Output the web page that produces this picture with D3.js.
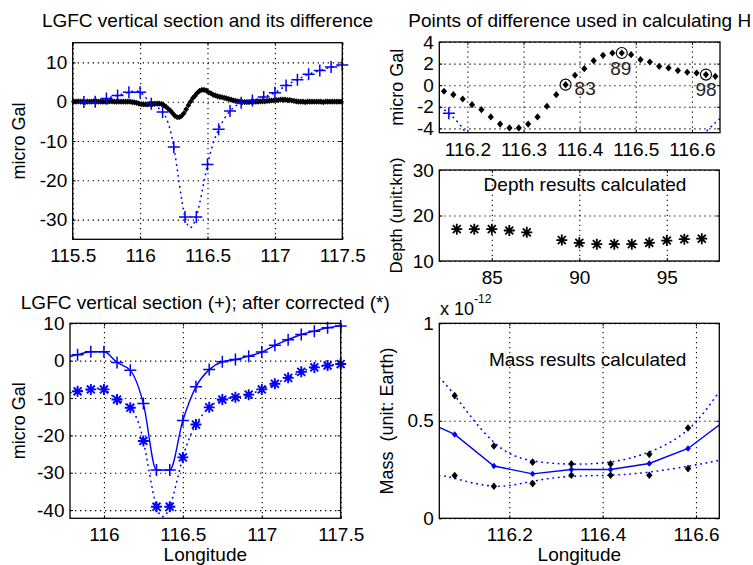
<!DOCTYPE html>
<html lang="en">
<head>
<meta charset="UTF-8">
<title>LGFC vertical section</title>
<script src="https://cdn.jsdelivr.net/npm/d3@7/dist/d3.min.js"></script>
<style>
  body { margin:0; background:#fff; }
  svg { display:block; }
  text { font-family:"Liberation Sans", Arial, Helvetica, sans-serif; fill:#000; }
  .frame { fill:none; stroke:#000; stroke-width:1.3; }
  .grid line { stroke:#000; stroke-width:1.1; stroke-dasharray:1.3,3.7; }
  .grid path, .ax path { display:none; }
  .ax line { stroke:#000; stroke-width:1; }
  .ax text { font-size:19px; }
</style>
</head>
<body>
<div id="chart"></div>
<script>

// LGFC vertical section: longitudes (deg) and values (micro Gal)
var secLon = [115.583, 115.667, 115.75, 115.833, 115.917, 116.0, 116.083, 116.167, 116.25, 116.333, 116.417, 116.5,
              116.583, 116.667, 116.75, 116.833, 116.917, 117.0, 117.083, 117.167, 117.25, 117.333, 117.417, 117.5];
var secVal = [-0.1, 0.0, 0.8, 1.6, 2.4, 2.4, -0.5, -2.6, -11.5, -29.3, -29.3, -16.0,
              -7.0, -2.4, -0.3, 0.3, 1.2, 2.3, 4.1, 5.6, 7.0, 7.9, 8.8, 9.3];
// after corrected (*)
var corVal = [-10.0, -9.9, -9.0, -8.2, -7.7, -7.7, -10.4, -12.6, -21.5, -39.1, -39.1, -25.9,
              -17.1, -12.5, -10.4, -9.8, -9.1, -7.7, -6.2, -4.6, -3.0, -1.8, -1.3, -0.9];

// difference points, point index 31..150 (1 arc-minute apart)
var diffFirst = 31;
var diffVal = [
  0.0, 0.0, 0.1, 0.0, 0.0, -0.1, 0.0, 0.0, 0.0, 0.1,
  0.1, 0.0, 0.0, 0.0, 0.0, 0.0, 0.1, 0.1, 0.0, 0.0,
  0.0, 0.0, 0.0, 0.0, 0.0, 0.0, -0.1, -0.2, -0.3, -0.5,
  -0.6, -0.7, -0.7, -0.7, -0.6, -0.6, -0.5, -0.5, -0.5, -0.56,
  -0.88, -1.28, -1.8, -2.27, -2.94, -3.6, -3.96, -3.96, -3.6, -2.94,
  -1.95, -0.88, 0.05, 0.92, 1.53, 2.27, 2.77, 2.98, 2.98, 2.83,
  2.36, 2.15, 1.75, 1.6, 1.35, 1.2, 1.13, 0.98, 0.82, 0.65,
  0.5, 0.35, 0.2, 0.1, 0.0, -0.1, -0.1, -0.1, -0.1, 0.0,
  0.0, 0.0, 0.0, 0.1, 0.1, 0.1, 0.2, 0.2, 0.3, 0.3,
  0.4, 0.4, 0.5, 0.5, 0.5, 0.4, 0.4, 0.3, 0.2, 0.1,
  0.0, 0.0, 0.0, -0.1, 0.0, 0.0, 0.0, 0.0, 0.0, 0.0,
  0.0, -0.1, 0.0, 0.0, 0.0, 0.0, 0.0, 0.0, 0.0, 0.0
];
var markIdx = [83, 89, 98];

// depth results (km) by point index
var depIdx = [83, 84, 85, 86, 87, 89, 90, 91, 92, 93, 94, 95, 96, 97];
var depVal = [17.0, 17.0, 17.0, 16.7, 16.3, 14.6, 14.0, 13.7, 13.7, 13.7, 14.0, 14.5, 14.8, 14.9];

// mass results (x 1e-12 Earth)
var massLon = [116.0, 116.083, 116.167, 116.25, 116.333, 116.417, 116.5, 116.583, 116.667];
var massVal = [0.52, 0.43, 0.268, 0.228, 0.25, 0.25, 0.281, 0.358, 0.51];
var boundLon = [116.083, 116.167, 116.25, 116.333, 116.417, 116.5, 116.583];
var massHi = [0.629, 0.371, 0.288, 0.279, 0.279, 0.328, 0.463];
var massLo = [0.219, 0.164, 0.178, 0.221, 0.221, 0.221, 0.255];
var fitLon = [116.05, 116.083, 116.167, 116.25, 116.333, 116.417, 116.5, 116.583, 116.65];
var fitHi = [0.72, 0.63, 0.39, 0.295, 0.278, 0.289, 0.34, 0.455, 0.65];
var fitLo = [0.22, 0.205, 0.165, 0.19, 0.215, 0.221, 0.237, 0.267, 0.297];

var BLUE = "#0000ff";
var W = 753, H = 565;
var svg = d3.select("#chart").append("svg").attr("width", W).attr("height", H);
var clipN = 0;
var fmt = function(d) { return String(d); };

function diffLon(i) { return 115 + (i - 0.5) / 60; }

// one MATLAB style axes box
function panel(o) {
  var x = d3.scaleLinear().domain(o.xd).range([o.x0, o.x1]);
  var y = d3.scaleLinear().domain(o.yd).range([o.y1, o.y0]);
  var w = o.x1 - o.x0, h = o.y1 - o.y0;
  var g = svg.append("g");
  var id = "clip" + (clipN++);
  svg.append("clipPath").attr("id", id).append("rect")
    .attr("x", o.x0).attr("y", o.y0).attr("width", w).attr("height", h);

  // dotted grid
  g.append("g").attr("class", "grid").attr("transform", "translate(0," + o.y1 + ")")
    .call(d3.axisBottom(x).tickValues(o.xt).tickSize(-h).tickFormat(""));
  g.append("g").attr("class", "grid").attr("transform", "translate(" + o.x0 + ",0)")
    .call(d3.axisLeft(y).tickValues(o.yt).tickSize(-w).tickFormat(""));

  var plot = g.append("g").attr("clip-path", "url(#" + id + ")");
  var marks = g.append("g");

  // axes with inward ticks
  g.append("g").attr("class", "ax").attr("transform", "translate(0," + o.y1 + ")")
    .call(d3.axisBottom(x).tickValues(o.xt).tickSizeInner(-3).tickSizeOuter(0).tickPadding(9.5).tickFormat(fmt));
  g.append("g").attr("class", "ax").attr("transform", "translate(0," + o.y0 + ")")
    .call(d3.axisTop(x).tickValues(o.xt).tickSizeInner(-3).tickSizeOuter(0).tickFormat(""));
  g.append("g").attr("class", "ax").attr("transform", "translate(" + o.x0 + ",0)")
    .call(d3.axisLeft(y).tickValues(o.yt).tickSizeInner(-3).tickSizeOuter(0).tickPadding(5.5).tickFormat(fmt));
  g.append("g").attr("class", "ax").attr("transform", "translate(" + o.x1 + ",0)")
    .call(d3.axisRight(y).tickValues(o.yt).tickSizeInner(-3).tickSizeOuter(0).tickFormat(""));

  g.append("rect").attr("class", "frame")
    .attr("x", o.x0).attr("y", o.y0).attr("width", w).attr("height", h);

  if (o.ylabel) {
    g.append("text").attr("transform", "translate(" + o.yl[0] + "," + o.yl[1] + ") rotate(-90)")
      .attr("text-anchor", "middle").style("font-size", (o.ylSize || 18) + "px")
      .style("white-space", "pre").text(o.ylabel);
  }
  return { x: x, y: y, plot: plot, marks: marks, g: g,
           inside: function(a, b) {
             return a >= o.xd[0] - 1e-9 && a <= o.xd[1] + 1e-9 && b >= o.yd[0] && b <= o.yd[1];
           } };
}

function plusPath(s) { return "M" + (-s) + ",0H" + s + "M0," + (-s) + "V" + s; }
function starPath(s) {
  var d = s * 0.72;
  return plusPath(s) + "M" + (-d) + "," + (-d) + "L" + d + "," + d + "M" + (-d) + "," + d + "L" + d + "," + (-d);
}
function diamondPath(w, h) { return "M0," + (-h) + "L" + w + ",0L0," + h + "L" + (-w) + ",0Z"; }

function drawLine(p, xs, ys, curve, dotted, color, width) {
  var pts = xs.map(function(v, i) { return [v, ys[i]]; });
  var line = d3.line().x(function(d) { return p.x(d[0]); }).y(function(d) { return p.y(d[1]); }).curve(curve);
  p.plot.append("path").attr("d", line(pts)).attr("fill", "none")
    .attr("stroke", color).attr("stroke-width", width)
    .attr("stroke-linecap", dotted ? "round" : "butt")
    .attr("stroke-dasharray", dotted ? "0.5,5" : null);
}

function drawMarks(p, xs, ys, path, style) {
  var pts = xs.map(function(v, i) { return [v, ys[i]]; }).filter(function(d) { return p.inside(d[0], d[1]); });
  p.marks.selectAll(null).data(pts).enter().append("path")
    .attr("transform", function(d) { return "translate(" + p.x(d[0]) + "," + p.y(d[1]) + ")"; })
    .attr("d", path)
    .attr("fill", style.fill || "none")
    .attr("stroke", style.stroke || "none")
    .attr("stroke-width", style.sw || 1);
}

var dIdx = diffVal.map(function(v, k) { return diffFirst + k; });
var dLon = dIdx.map(diffLon);

// ---- top left: section and its difference
var p1 = panel({ x0: 72.7, x1: 342.3, y0: 42.7, y1: 239.3, xd: [115.5, 117.5], yd: [-35, 15],
  xt: [115.5, 116, 116.5, 117, 117.5], yt: [-30, -20, -10, 0, 10],
  ylabel: "micro Gal", yl: [25, 141] });
drawMarks(p1, dLon, diffVal, diamondPath(2.8, 3.1), { fill: "#000" });
drawLine(p1, secLon, secVal, d3.curveNatural, true, BLUE, 1.6);
drawMarks(p1, secLon, secVal, plusPath(6), { stroke: BLUE, sw: 1.5 });
svg.append("text").attr("x", 207.5).attr("y", 26.5).attr("text-anchor", "middle")
  .style("font-size", "19px").text("LGFC vertical section and its difference");

// ---- top right: points of difference
var p2 = panel({ x0: 439.3, x1: 720, y0: 42, y1: 132.7, xd: [116.15, 116.65], yd: [-4.4, 4],
  xt: [116.2, 116.3, 116.4, 116.5, 116.6], yt: [-4, -2, 0, 2, 4],
  ylabel: "micro Gal", yl: [403.3, 87.3] });
drawLine(p2, secLon, secVal, d3.curveNatural, true, BLUE, 1.6);
drawMarks(p2, dLon, diffVal, diamondPath(3.1, 3.6), { fill: "#000" });
drawMarks(p2, secLon, secVal, plusPath(6), { stroke: BLUE, sw: 1.5 });
var labOff = { 83: [9, 10.6, "start"], 89: [-1, 21.7, "middle"], 98: [0, 21.6, "middle"] };
markIdx.forEach(function(i) {
  var v = diffVal[i - diffFirst], cx = p2.x(diffLon(i)), cy = p2.y(v);
  p2.marks.append("circle").attr("cx", cx).attr("cy", cy).attr("r", 5.5)
    .attr("fill", "none").attr("stroke", "#000").attr("stroke-width", 1.1);
  p2.marks.append("text").attr("x", cx + labOff[i][0]).attr("y", cy + labOff[i][1])
    .attr("text-anchor", labOff[i][2]).style("font-size", "19px").style("fill", "#222").text(i);
});
svg.append("text").attr("x", 579.7).attr("y", 26.5).attr("text-anchor", "middle")
  .style("font-size", "19px").text("Points of difference used in calculating H");

// ---- depth results
var p3 = panel({ x0: 439.3, x1: 719.3, y0: 170, y1: 261, xd: [82, 98], yd: [10, 30],
  xt: [85, 90, 95], yt: [10, 20, 30],
  ylabel: "Depth (unit:km)", yl: [401.5, 215.5], ylSize: 17 });
drawMarks(p3, depIdx, depVal, starPath(5.5), { stroke: "#000", sw: 1.8 });
p3.g.append("text").attr("x", 585).attr("y", 191).attr("text-anchor", "middle")
  .style("font-size", "19px").text("Depth results calculated");

// ---- bottom left: section and corrected
var p4 = panel({ x0: 70, x1: 340.7, y0: 323.3, y1: 518.3, xd: [115.785, 117.5], yd: [-42.2, 10],
  xt: [116, 116.5, 117, 117.5], yt: [-40, -30, -20, -10, 0, 10],
  ylabel: "micro Gal", yl: [25, 420.8] });
drawLine(p4, secLon, corVal, d3.curveNatural, true, BLUE, 1.6);
drawLine(p4, secLon, secVal, d3.curveMonotoneX, false, BLUE, 1.4);
drawMarks(p4, secLon, secVal, plusPath(6), { stroke: BLUE, sw: 1.5 });
drawMarks(p4, secLon, corVal, starPath(5.5), { stroke: BLUE, sw: 1.9 });
svg.append("text").attr("x", 205.3).attr("y", 309).attr("text-anchor", "middle")
  .style("font-size", "19px").text("LGFC vertical section (+); after corrected (*)");
svg.append("text").attr("x", 205.3).attr("y", 561).attr("text-anchor", "middle")
  .style("font-size", "19px").text("Longitude");

// ---- bottom right: mass results
var p5 = panel({ x0: 439.3, x1: 719.3, y0: 323.3, y1: 518.3, xd: [116.05, 116.65], yd: [0, 1],
  xt: [116.2, 116.4, 116.6], yt: [0, 0.5, 1],
  ylabel: "Mass  (unit: Earth)", yl: [392.5, 421] });
drawLine(p5, fitLon, fitHi, d3.curveNatural, true, BLUE, 1.6);
drawLine(p5, fitLon, fitLo, d3.curveNatural, true, BLUE, 1.6);
drawLine(p5, massLon, massVal, d3.curveLinear, false, BLUE, 1.4);
drawMarks(p5, massLon, massVal, diamondPath(2.8, 3.2), { fill: BLUE });
drawMarks(p5, boundLon, massHi, diamondPath(3.2, 3.8), { fill: "#000" });
drawMarks(p5, boundLon, massLo, diamondPath(3.2, 3.8), { fill: "#000" });
p5.g.append("text").attr("x", 587.7).attr("y", 366).attr("text-anchor", "middle")
  .style("font-size", "19px").text("Mass results calculated");
var ex = svg.append("text").attr("x", 440).attr("y", 315).style("font-size", "18px");
ex.append("tspan").text("x 10");
ex.append("tspan").attr("dy", -12).style("font-size", "12px").text("-12");
svg.append("text").attr("x", 579.3).attr("y", 561).attr("text-anchor", "middle")
  .style("font-size", "19px").text("Longitude");

</script>
</body>
</html>
